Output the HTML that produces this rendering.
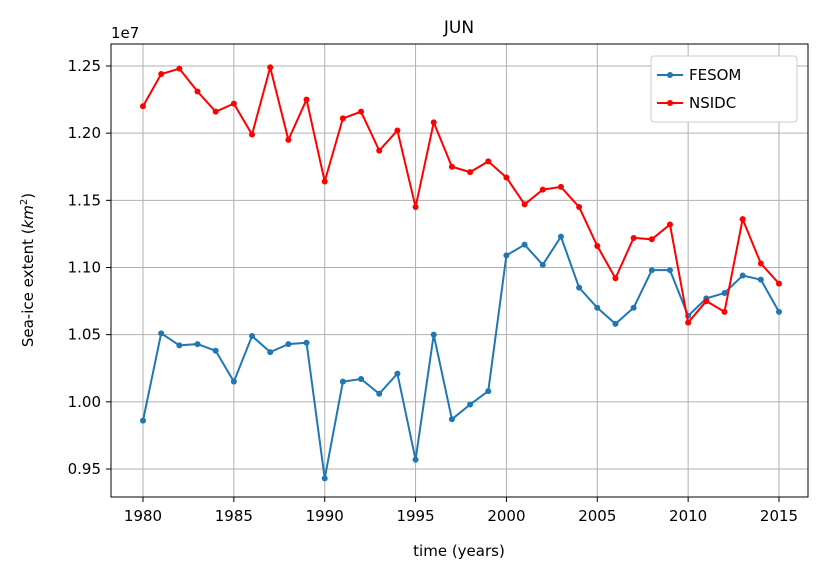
<!DOCTYPE html>
<html><head><meta charset="utf-8"><style>
body{margin:0;background:#fff;font-family:"Liberation Sans","DejaVu Sans",sans-serif;}
svg text{font-family:"DejaVu Sans","Liberation Sans",sans-serif;fill:#000;}
</style></head><body>
<svg id="chart" width="826" height="577">
<g id="grid"></g>
<g id="series"></g>
<rect x="111" y="44" width="697" height="453" fill="none" stroke="#000" stroke-width="1"/>
<g id="ticks"></g>
<text x="459" y="33" font-size="17" text-anchor="middle">JUN</text>
<text x="111" y="38" font-size="15">1e7</text>
<text x="459" y="556" font-size="15" text-anchor="middle">time (years)</text>
<text transform="translate(33,270) rotate(-90)" font-size="15" text-anchor="middle">Sea-ice extent (<tspan font-style="italic">km</tspan><tspan font-size="10" dy="-6">2</tspan><tspan dy="6">)</tspan></text>
<g>
<rect x="651" y="56" width="146" height="66" rx="3" fill="#fff" stroke="#ccc"/>
<g>
<line x1="657" y1="75" x2="683" y2="75" stroke="#1f77b4" stroke-width="2"/><circle cx="670" cy="75" r="3" fill="#1f77b4"/>
<text x="689" y="80" font-size="15">FESOM</text></g>
<g>
<line x1="657" y1="103" x2="683" y2="103" stroke="#ff0000" stroke-width="2"/><circle cx="670" cy="103" r="3" fill="#ff0000"/>
<text x="689" y="108" font-size="15">NSIDC</text></g>
</g>
</svg>
<script>
const years=[];for(let y=1980;y<=2015;y++)years.push(y);
const nsidc=[1.220,1.244,1.248,1.231,1.216,1.222,1.199,1.249,1.195,1.225,1.164,1.211,1.216,1.187,1.202,1.145,1.208,1.175,1.171,1.179,1.167,1.147,1.158,1.160,1.145,1.116,1.092,1.122,1.121,1.132,1.059,1.075,1.067,1.136,1.103,1.088];
const fesom=[0.986,1.051,1.042,1.043,1.038,1.015,1.049,1.037,1.043,1.044,0.943,1.015,1.017,1.006,1.021,0.957,1.050,0.987,0.998,1.008,1.109,1.117,1.102,1.123,1.085,1.070,1.058,1.070,1.098,1.098,1.064,1.077,1.081,1.094,1.091,1.067];
const xTicks=[1980,1985,1990,1995,2000,2005,2010,2015];
const yTicks=[0.95,1.00,1.05,1.10,1.15,1.20,1.25];
const NS="http://www.w3.org/2000/svg";
const xs=v=>143+(v-1980)*(636/35);
const ys=v=>66+(1.25-v)*1343.33;
function mk(t,a,p){const e=document.createElementNS(NS,t);for(const k in a)e.setAttribute(k,a[k]);p.appendChild(e);return e;}
const grid=document.getElementById('grid'),ticks=document.getElementById('ticks'),ser=document.getElementById('series');
xTicks.forEach(t=>{const x=xs(t);
 const g=mk('line',{x1:x,x2:x,y1:44,y2:497,stroke:'#b0b0b0','stroke-width':1},grid);
 
 
 mk('line',{x1:x,x2:x,y1:497,y2:502,stroke:'#000'},ticks);
 const tx=mk('text',{x:x,y:521,'font-size':15,'text-anchor':'middle'},ticks);tx.textContent=t;
 
 });
yTicks.forEach(t=>{const y=ys(t);
 const g=mk('line',{x1:111,x2:808,y1:y,y2:y,stroke:'#b0b0b0','stroke-width':1},grid);
 
 
 mk('line',{x1:106,x2:111,y1:y,y2:y,stroke:'#000'},ticks);
 const tx=mk('text',{x:101,y:y+5,'font-size':15,'text-anchor':'end'},ticks);tx.textContent=t.toFixed(2);
 
 });
function draw(vals,col,name){
 const pl=mk('polyline',{points:vals.map((v,i)=>xs(years[i])+','+ys(v)).join(' '),fill:'none',stroke:col,'stroke-width':2},ser);
 
 
 vals.forEach((v,i)=>{const c=mk('circle',{cx:xs(years[i]),cy:ys(v),r:3,fill:col},ser);
  
  });
}
draw(fesom,'#1f77b4','fesom');
draw(nsidc,'#ff0000','nsidc');
</script>
</body></html>
